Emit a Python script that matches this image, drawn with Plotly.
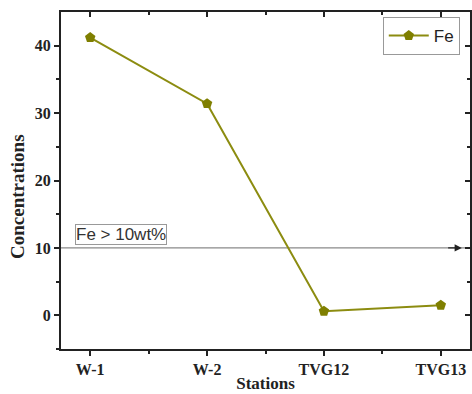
import plotly.graph_objects as go

stations = ["W-1", "W-2", "TVG12", "TVG13"]
fe_values = [41.2, 31.4, 0.6, 1.5]
threshold = 10
y_ticks = [0, 10, 20, 30, 40]

olive = "#7f7f00"
serif = "Liberation Serif, Times New Roman, serif"
sans = "Liberation Sans, Arial, sans-serif"

x_idx = list(range(len(stations)))

fig = go.Figure()
fig.add_trace(go.Scatter(
    x=x_idx, y=fe_values, mode="lines+markers", name="Fe",
    line=dict(color="#8c8c10", width=2),
    marker=dict(symbol="pentagon", size=11, color=olive),
))

# invisible trace for mirrored top/right axes
fig.add_trace(go.Scatter(x=[None], y=[None], xaxis="x2", yaxis="y2", showlegend=False))

xr = [-0.25, 3.25]
yr = [-5, 45]

fig.update_layout(
    width=472, height=394,
    margin=dict(l=61, r=2, t=12, b=45),
    plot_bgcolor="white", paper_bgcolor="white",
    showlegend=True,
    legend=dict(x=0.975, y=0.985, xanchor="right", yanchor="top",
                bordercolor="#999999", borderwidth=1, bgcolor="white",
                font=dict(family=sans, size=17, color="#222"),
                itemwidth=40, tracegroupgap=0),
    xaxis=dict(range=xr, tickmode="array", tickvals=x_idx, ticktext=stations,
               showgrid=False, zeroline=False, showline=True, linecolor="#222", linewidth=2,
               ticks="outside", ticklen=5, tickwidth=1.5, tickcolor="#222",
               minor=dict(tickvals=[0.5, 1.5, 2.5], ticks="outside", ticklen=3, tickcolor="#222"),
               tickfont=dict(family=serif, size=16, color="#222", weight="bold"),
               title=dict(text="<b>Stations</b>", font=dict(family=serif, size=17, color="#222"), standoff=0)),
    yaxis=dict(range=yr, tickmode="array", tickvals=y_ticks,
               showgrid=False, zeroline=False, showline=True, linecolor="#222", linewidth=2,
               ticks="outside", ticklen=5, tickwidth=1.5, tickcolor="#222",
               minor=dict(tickvals=[-5, 5, 15, 25, 35], ticks="outside", ticklen=3, tickcolor="#222"),
               tickfont=dict(family=serif, size=16, color="#222", weight="bold")),
    xaxis2=dict(range=xr, overlaying="x", side="top", tickmode="array", tickvals=x_idx,
                showticklabels=False, showgrid=False, zeroline=False, showline=True,
                linecolor="#222", linewidth=2, ticks="inside", ticklen=5, tickwidth=1.5, tickcolor="#222",
                minor=dict(tickvals=[0.5, 1.5, 2.5], ticks="inside", ticklen=3, tickcolor="#222")),
    yaxis2=dict(range=yr, overlaying="y", side="right", tickmode="array", tickvals=y_ticks,
                showticklabels=False, showgrid=False, zeroline=False, showline=True,
                linecolor="#222", linewidth=2, ticks="inside", ticklen=5, tickwidth=1.5, tickcolor="#222",
                minor=dict(tickvals=[-5, 5, 15, 25, 35], ticks="inside", ticklen=3, tickcolor="#222")),
)

# y-axis title (positioned like the original, slightly below centre)
fig.add_annotation(x=17, y=197, xref="paper", yref="paper", text="<b>Concentrations</b>",
                   textangle=-90, showarrow=False, xanchor="center", yanchor="middle",
                   font=dict(family=serif, size=19, color="#222"))
fig.update_annotations(selector=dict(text="<b>Concentrations</b>"),
                       x=(17 - 61) / (472 - 61 - 2), y=1 - (197 - 12) / (394 - 12 - 45))

# threshold line
fig.add_shape(type="line", xref="x", yref="y", x0=xr[0], x1=xr[1], y0=threshold, y1=threshold,
              line=dict(color="#8a8a8a", width=1.2), layer="below")
fig.add_annotation(x=3.18, y=threshold, ax=3.05, ay=threshold, xref="x", yref="y",
                   axref="x", ayref="y", showarrow=True, arrowhead=2, arrowsize=1.2,
                   arrowwidth=1.2, arrowcolor="#222", text="")
fig.add_annotation(x=-0.13, y=threshold, xref="x", yref="y", xanchor="left", yanchor="bottom",
                   yshift=3, text="Fe > 10wt%", showarrow=False,
                   font=dict(family=sans, size=17, color="#333"),
                   bordercolor="#999999", borderwidth=1, borderpad=0, bgcolor="white")

fig.write_html("out.html")
